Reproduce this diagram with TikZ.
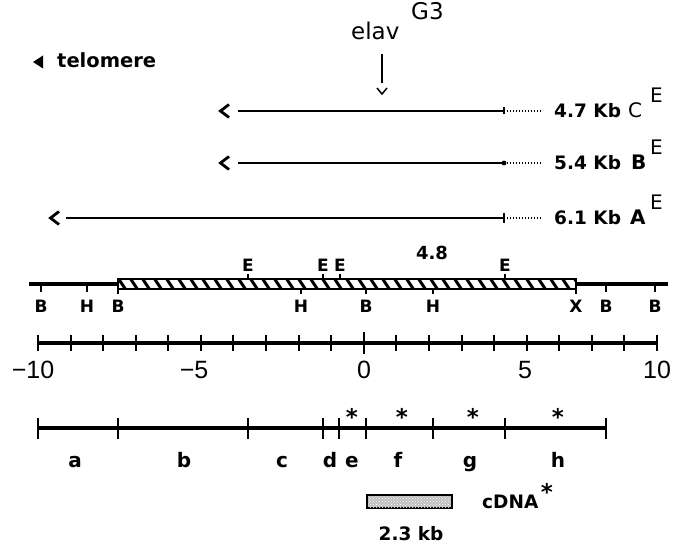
\documentclass[tikz,border=0pt]{standalone}
\usepackage{fontspec}
\setmainfont{DejaVu Sans}
\newfontfamily\numfont{Liberation Sans}
\usetikzlibrary{patterns}
\newcommand\fsz[1]{\fontsize{#1}{#1}\selectfont}

\tikzset{
  lbl/.style={font=\bfseries\fsz{18.5}, inner sep=0pt, anchor=base west},
  supl/.style={font=\fsz{20}, inner sep=0pt, anchor=base west},
  sitelbl/.style={font=\bfseries\fsz{17}, inner sep=0pt, anchor=base},
  numlbl/.style={font=\numfont\fsz{25}, inner sep=0pt, anchor=base},
  fraglbl/.style={font=\bfseries\fsz{20}, inner sep=0pt, anchor=base},
  starlbl/.style={font=\bfseries\fsz{23}, inner sep=0pt, anchor=base},
  clone/.style={line width=2.4pt},
  tail/.style={line width=1.2pt, dash pattern=on 1.2pt off 1.8pt},
  chev/.style={line width=2.8pt, miter limit=10},
  mapline/.style={line width=3.2pt},
  tk/.style={line width=2pt},
}

\begin{document}
\begin{tikzpicture}[x=1pt, y=-1pt]
\useasboundingbox (0,0) rectangle (690,545);

% telomere direction
\fill (33,62) -- (43,55.5) -- (43,68.5) -- cycle;
\node[font=\bfseries\fsz{19.5}, inner sep=0pt, anchor=base west] (telo) at (57,68) {telomere};

% insertion site
\node[font=\fsz{23}, inner sep=0pt, anchor=base west] (elav) at (351,40) {elav};
\node[font=\fsz{23}, inner sep=0pt, anchor=base west] (g3) at (411,20) {G3};
\coordinate (ins1) at (382,54);
\coordinate (ins2) at (382,83);
\draw[line width=1.5pt] (ins1) -- (ins2);
\draw[line width=1.5pt] ([shift={(-5,5)}]ins2) -- ([shift={(0,11)}]ins2) -- ([shift={(5,5)}]ins2);

% genomic clones
\coordinate (Cs) at (238,111); \coordinate (Ce) at (504,111); \coordinate (Ct) at (541,111);
\coordinate (Bs) at (238,163); \coordinate (Be) at (504,163); \coordinate (Bt) at (541,163);
\coordinate (As) at (66,218);  \coordinate (Ae) at (504,218); \coordinate (At) at (541,218);

\draw[clone] (Cs) -- (Ce);
\draw[clone] (Bs) -- (Be);
\draw[clone] (As) -- (Ae);
\draw[tail] ([xshift=3pt]Ce) -- (Ct);
\draw[tail] ([xshift=3pt]Be) -- (Bt);
\draw[tail] ([xshift=3pt]Ae) -- (At);
\draw[line width=1.6pt] ([yshift=-3.5pt]Ce) -- ([yshift=3.5pt]Ce);
\fill (Be) circle (2.4pt);
\draw[line width=1.6pt] ([yshift=-5pt]Ae) -- ([yshift=5pt]Ae);
\foreach \c/\g in {Cs/9, Bs/9, As/7}{
  \draw[chev] ([shift={(-\g,-6.5)}]\c) -- ([shift={(-\g-8.5,0)}]\c) -- ([shift={(-\g,6.5)}]\c);
}

\node[lbl] (Ckb) at (554,118) {4.7 Kb};
\node[font=\fsz{20}, inner sep=0pt, anchor=base west] (Cn) at (628,118) {C};
\node[supl] (Csup) at (650,103) {E};
\node[lbl] (Bkb) at (554,170) {5.4 Kb};
\node[font=\bfseries\fsz{20}, inner sep=0pt, anchor=base west] (Bn) at (631,170) {B};
\node[supl] (Bsup) at (650,155) {E};
\node[lbl] (Akb) at (554,225) {6.1 Kb};
\node[font=\bfseries\fsz{20}, inner sep=0pt, anchor=base west] (An) at (630,225) {A};
\node[supl] (Asup) at (650,210) {E};

% restriction map
\draw[mapline] (29,284) -- (118,284);
\draw[mapline] (576,284) -- (668,284);
\begin{scope}
  \clip (118,279) rectangle (576,289);
  \foreach \x in {106,118,...,590} \draw[line width=3pt] (\x,278) -- (\x+8,290);
\end{scope}
\draw[line width=1.8pt] (118,279) rectangle (576,289);
\node[font=\bfseries\fsz{18}, inner sep=0pt, anchor=base] (len) at (432,259) {4.8};

\foreach \x/\t in {41/B, 87/H, 606/B, 655/B}{
  \draw[tk] (\x,284) -- (\x,292);
  \node[sitelbl] at (\x,312.5) {\t};
}
\foreach \x/\t in {301/H, 366/B, 433/H}{
  \draw[tk] (\x,289) -- (\x,294);
  \node[sitelbl] at (\x,312.5) {\t};
}
\foreach \x/\t in {118/B, 576/X}{
  \draw[tk] (\x,279) -- (\x,294);
  \node[sitelbl] at (\x,312.5) {\t};
}
\foreach \x in {248, 323, 340, 505}{
  \draw[tk] (\x,273.5) -- (\x,279);
  \node[sitelbl] at (\x,271) {E};
}

% kb scale
\draw[mapline] (38,343) -- (657,343);
\foreach \i in {0,...,19}{
  \draw[tk] (38+\i*32.58,335) -- (38+\i*32.58,351);
}
\draw[tk] (364,332) -- (364,354);
\node[numlbl] (m10) at (33,378) {−10};
\node[numlbl] (m5) at (194,378) {−5};
\node[numlbl] (z0) at (364,378) {0};
\node[numlbl] (p5) at (525,378) {5};
\node[numlbl] (p10) at (657,378) {10};

% subclone fragments
\draw[mapline] (38,428) -- (606,428);
\foreach \x in {38, 118, 248, 323, 339, 366, 433, 505, 606}{
  \draw[tk] (\x,418) -- (\x,439);
}
\foreach \x/\t in {75/a, 184/b, 282/c, 330/d, 352/e, 398/f, 470/g, 558/h}{
  \node[fraglbl] at (\x,467) {\t};
}
\foreach \x in {352, 402, 473, 558}{
  \node[starlbl] at (\x,425) {*};
}

% cDNA
\draw[line width=2pt, fill=gray!50] (367,495) rectangle (452,508);
\fill[pattern=crosshatch dots, pattern color=white] (368,496) rectangle (451,507);
\node[font=\bfseries\fsz{18.5}, inner sep=0pt, anchor=base west] (cdna) at (482,508) {cDNA};
\node[starlbl] (cstar) at (547,500) {*};
\node[font=\bfseries\fsz{18.5}, inner sep=0pt, anchor=base] (kb23) at (411,540) {2.3 kb};
\end{tikzpicture}
\end{document}
